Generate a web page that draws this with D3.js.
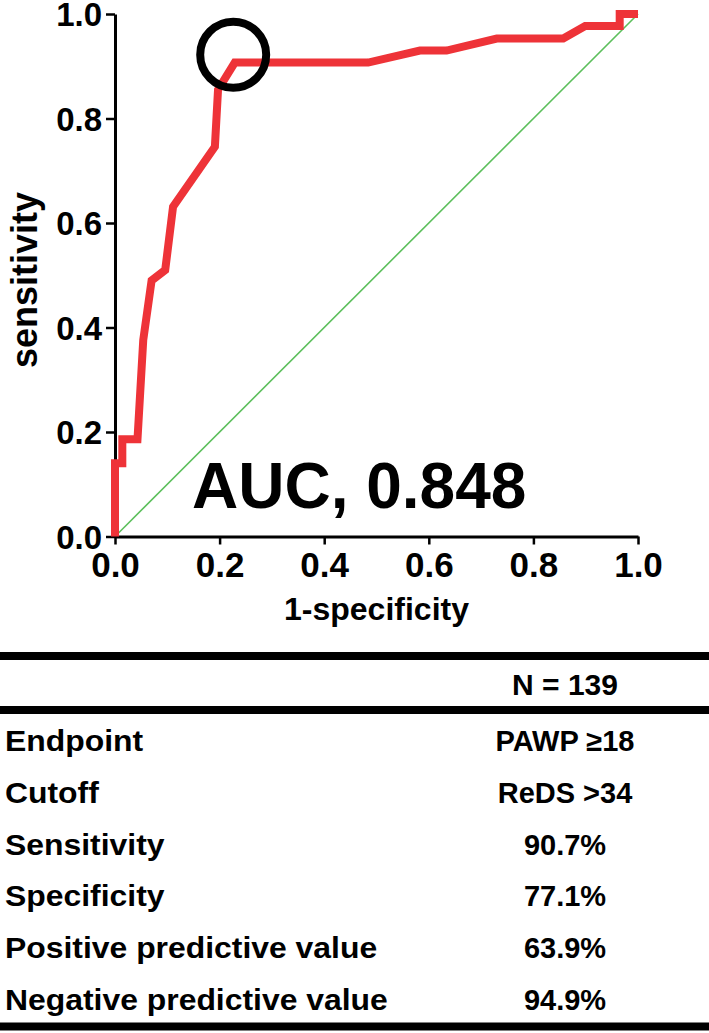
<!DOCTYPE html>
<html>
<head>
<meta charset="utf-8">
<script src="https://cdn.jsdelivr.net/npm/d3@7/dist/d3.min.js"></script>
<style>
  html, body { margin: 0; padding: 0; background: #fff; }
  svg { display: block; }
  text { font-family: "Liberation Sans", Arial, sans-serif; font-weight: bold; fill: #000; }
</style>
</head>
<body>
<div id="chart"></div>
<script>
// ROC curve points (1-specificity, sensitivity)
var rocFpr = [0, 0, 0.014, 0.014, 0.043, 0.054, 0.07, 0.096, 0.111, 0.191, 0.197, 0.229,
  0.484, 0.583, 0.634, 0.73, 0.857, 0.899, 0.965, 0.965, 1.0];
var rocTpr = [0, 0.14, 0.14, 0.186, 0.186, 0.376, 0.49, 0.51, 0.631, 0.746, 0.855, 0.907,
  0.907, 0.93, 0.93, 0.953, 0.953, 0.977, 0.977, 1.0, 1.0];
var refLine = [[0, 0], [1, 1]];
var cutoffPoint = [0.226, 0.922];
var tickVals = [0, 0.2, 0.4, 0.6, 0.8, 1.0];
var aucLabel = 'AUC, 0.848';

// table below the plot
var tableHeader = 'N = 139';
var rowLabels = ['Endpoint', 'Cutoff', 'Sensitivity', 'Specificity',
  'Positive predictive value', 'Negative predictive value'];
var rowValues = ['PAWP \u226518', 'ReDS >34', '90.7%', '77.1%', '63.9%', '94.9%'];

var width = 709, height = 1033;
var plot = { left: 115, right: 638, top: 14, bottom: 536.5 };

var svg = d3.select('#chart').append('svg')
  .attr('width', width)
  .attr('height', height)

var x = d3.scaleLinear().domain([0, 1]).range([plot.left, plot.right]);
var y = d3.scaleLinear().domain([0, 1]).range([plot.bottom, plot.top]);

// diagonal reference
svg.append('path')
  .datum(refLine)
  .attr('d', d3.line().x(d => x(d[0])).y(d => y(d[1])))
  .attr('fill', 'none')
  .attr('stroke', '#5cbf5c')
  .attr('stroke-width', 1.6)

// axes
var xAxis = d3.axisBottom(x).tickValues(tickVals).tickSize(8).tickSizeOuter(0)
  .tickFormat(d3.format('.1f'));
var yAxis = d3.axisLeft(y).tickValues(tickVals).tickSize(9).tickSizeOuter(0)
  .tickFormat(d3.format('.1f'));

var gx = svg.append('g')
  .attr('transform', `translate(0, ${plot.bottom})`)
  .call(xAxis);
var gy = svg.append('g')
  .attr('transform', `translate(${plot.left}, 0)`)
  .call(yAxis);

[gx, gy].forEach(function(g) {
  g.select('.domain').attr('stroke', '#000').attr('stroke-width', 3);
  g.selectAll('.tick line').attr('stroke', '#000').attr('stroke-width', 2.5);
  g.selectAll('.tick text')
    .attr('fill', '#000')
    .attr('font-family', '"Liberation Sans", Arial, sans-serif')
    .attr('font-weight', 'bold');
});
gx.selectAll('.tick text').attr('font-size', '35px').attr('dy', null).attr('y', 40);
gy.selectAll('.tick text').attr('font-size', '33px').attr('x', -13).attr('dy', '0.36em');

// ROC curve
var roc = rocFpr.map((d, i) => [d, rocTpr[i]]);
svg.append('path')
  .datum(roc)
  .attr('d', d3.line().x(d => x(d[0])).y(d => y(d[1])))
  .attr('fill', 'none')
  .attr('stroke', '#ee3338')
  .attr('stroke-width', 8)
  .attr('stroke-linejoin', 'miter')

// cutoff marker
svg.append('circle')
  .attr('cx', x(cutoffPoint[0]))
  .attr('cy', y(cutoffPoint[1]))
  .attr('r', 33)
  .attr('fill', 'none')
  .attr('stroke', '#000')
  .attr('stroke-width', 8)

// AUC text
svg.append('text')
  .attr('x', 192)
  .attr('y', 508)
  .attr('font-size', '64px')
  .text(aucLabel)

// axis titles
svg.append('text')
  .attr('x', (plot.left + plot.right) / 2)
  .attr('y', 620)
  .attr('text-anchor', 'middle')
  .attr('font-size', '32px')
  .text('1-specificity')
svg.append('text')
  .attr('transform', `translate(37, 280) rotate(-90)`)
  .attr('text-anchor', 'middle')
  .attr('font-size', '36px')
  .text('sensitivity')

// table
var rule = [656, 710, 1026.5];
svg.selectAll('line.rule')
  .data(rule)
  .enter()
  .append('line')
  .attr('class', 'rule')
  .attr('x1', 0)
  .attr('x2', width)
  .attr('y1', d => d)
  .attr('y2', d => d)
  .attr('stroke', '#000')
  .attr('stroke-width', 8)

var valX = 565;
svg.append('text')
  .attr('x', valX)
  .attr('y', 695)
  .attr('text-anchor', 'middle')
  .attr('font-size', '30px')
  .text(tableHeader)

var rowY = d3.scalePoint().domain(rowLabels).range([751, 1010]);
svg.selectAll('text.lab')
  .data(rowLabels)
  .enter()
  .append('text')
  .attr('class', 'lab')
  .attr('transform', d => `translate(5, ${rowY(d)}) scale(1.1, 1)`)
  .attr('font-size', '29px')
  .text(d => d)
svg.selectAll('text.val')
  .data(rowValues)
  .enter()
  .append('text')
  .attr('class', 'val')
  .attr('x', valX)
  .attr('y', (d, i) => rowY(rowLabels[i]))
  .attr('text-anchor', 'middle')
  .attr('font-size', '29px')
  .text(d => d)
</script>
</body>
</html>
